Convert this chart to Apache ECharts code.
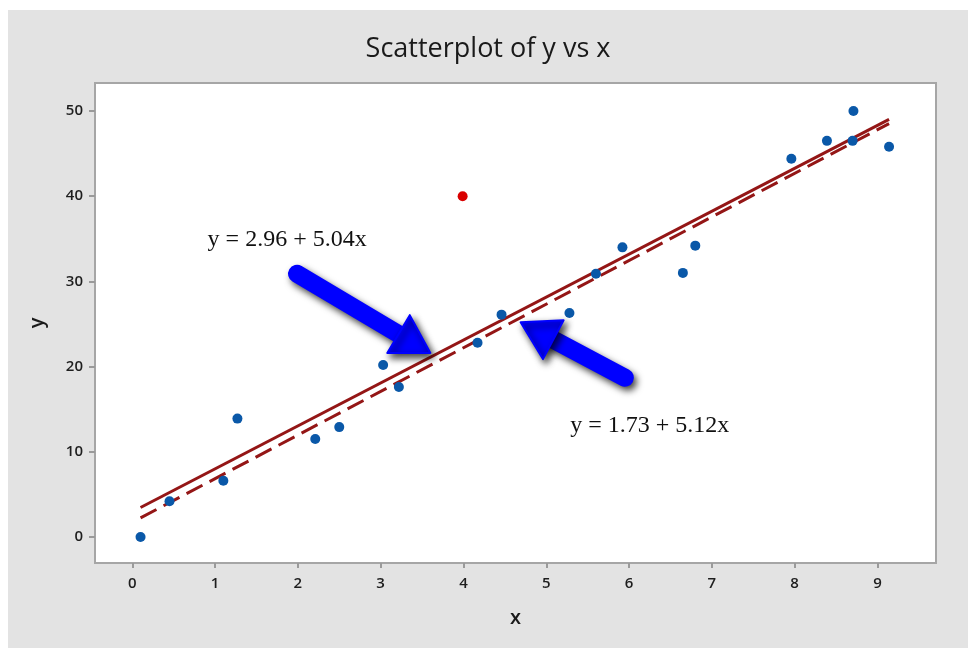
<!DOCTYPE html>
<html>
<head>
<meta charset="utf-8">
<script src="https://cdn.jsdelivr.net/npm/echarts@6/dist/echarts.min.js"></script>
<style>
  html, body { margin: 0; padding: 0; background: #ffffff; }
  #chart { position: absolute; left: 8px; top: 10px; width: 960px; height: 638px; }
</style>
</head>
<body>
<div id="chart"></div>
<script>
// ---- data ----
const xValues = [0.10, 0.45, 1.10, 1.27, 2.21, 2.50, 3.03, 3.22, 4.17, 4.46, 5.28, 5.60, 5.92, 6.65, 6.80, 7.96, 8.39, 8.70, 8.71, 9.14];
const yValues = [0.0, 4.2, 6.6, 13.9, 11.5, 12.9, 20.2, 17.6, 22.8, 26.1, 26.3, 30.9, 34.0, 31.0, 34.2, 44.4, 46.5, 46.5, 50.0, 45.8];
const outlierX = [3.99];
const outlierY = [40.0];
const fitWithOutlier = [2.96, 5.04];   // intercept, slope (solid)
const fitWithoutOutlier = [1.73, 5.12]; // intercept, slope (dashed)
const fitXRange = [0.10, 9.14];
const xTicks = [0, 1, 2, 3, 4, 5, 6, 7, 8, 9];
const yTicks = [0, 10, 20, 30, 40, 50];
const labelWith = 'y = 2.96 + 5.04x';
const labelWithout = 'y = 1.73 + 5.12x';
// annotation anchors in data coordinates
const labelWithPos = [0.91, 34.9];
const labelWithoutPos = [5.29, 13.1];
const arrow1 = [[1.99, 30.9], [3.60, 21.6]]; // tail, tip
const arrow2 = [[5.95, 18.7], [4.69, 25.2]];

const pts = xValues.map((x, i) => [x, yValues[i]]);
const outPts = outlierX.map((x, i) => [x, outlierY[i]]);
const fitLine = (f) => fitXRange.map(x => [x, +(f[0] + f[1] * x).toFixed(3)]);

const chart = echarts.init(document.getElementById('chart'));
const tickFont = { fontFamily: 'Open Sans', fontSize: 15, fontWeight: 600, color: '#1e1e1e' };

chart.setOption({
  backgroundColor: '#e3e3e3',
  animation: false,
  title: {
    text: 'Scatterplot of y vs x',
    left: 'center',
    top: 21,
    textStyle: { fontFamily: 'Open Sans', fontSize: 27, fontWeight: 'normal', color: '#1a1a1a' }
  },
  grid: {
    left: 87, right: 32, top: 73, bottom: 85,
    show: true, backgroundColor: '#ffffff', borderColor: '#a6a6a6', borderWidth: 2
  },
  xAxis: {
    type: 'value', min: -0.45, max: 9.707,
    name: 'x', nameLocation: 'middle', nameGap: 45,
    nameTextStyle: { fontFamily: 'Open Sans', fontSize: 20, fontWeight: 600, color: '#1a1a1a' },
    axisLine: { show: false, onZero: false },
    axisTick: { show: true, length: 5, customValues: xTicks, lineStyle: { color: '#9a9a9a', width: 2 } },
    axisLabel: Object.assign({ customValues: xTicks, margin: 13 }, tickFont),
    splitLine: { show: false }
  },
  yAxis: {
    type: 'value', min: -3.05, max: 53.29,
    name: 'y', nameLocation: 'middle', nameGap: 48,
    nameTextStyle: { fontFamily: 'Open Sans', fontSize: 20, fontWeight: 600, color: '#1a1a1a' },
    axisLine: { show: false, onZero: false },
    axisTick: { show: true, length: 6, customValues: yTicks, lineStyle: { color: '#9a9a9a', width: 2 } },
    axisLabel: Object.assign({ customValues: yTicks, margin: 12 }, tickFont),
    splitLine: { show: false }
  },
  series: [
    {
      type: 'line', data: fitLine(fitWithOutlier), symbol: 'none', z: 2,
      lineStyle: { color: '#941616', width: 3, type: 'solid' }
    },
    {
      type: 'line', data: fitLine(fitWithoutOutlier), symbol: 'none', z: 2,
      lineStyle: { color: '#941616', width: 3, type: [18, 8] }
    },
    {
      type: 'scatter', data: pts, symbolSize: 10, z: 3,
      itemStyle: { color: '#0a58a8', opacity: 1 }
    },
    {
      type: 'scatter', data: outPts, symbolSize: 10, z: 3,
      itemStyle: { color: '#d90000', opacity: 1 }
    }
  ]
});

function arrowGraphics(a) {
  const t = chart.convertToPixel({ gridIndex: 0 }, a[0]);
  const p = chart.convertToPixel({ gridIndex: 0 }, a[1]);
  const dx = p[0] - t[0], dy = p[1] - t[1];
  const len = Math.sqrt(dx * dx + dy * dy);
  const ux = dx / len, uy = dy / len;
  const nx = -uy, ny = ux;
  const headLen = 37, headHalf = 22, shaft = 18;
  const bx = p[0] - ux * headLen, by = p[1] - uy * headLen;
  const shadow = { shadowBlur: 7, shadowColor: 'rgba(0,0,0,0.75)', shadowOffsetX: 3, shadowOffsetY: 4 };
  return [
    {
      type: 'line', z: 50,
      shape: { x1: t[0], y1: t[1], x2: bx + ux * 4, y2: by + uy * 4 },
      style: Object.assign({ stroke: '#0000ff', lineWidth: shaft, lineCap: 'round' }, shadow)
    },
    {
      type: 'polygon', z: 51,
      shape: { points: [[p[0], p[1]], [bx + nx * headHalf, by + ny * headHalf], [bx - nx * headHalf, by - ny * headHalf]] },
      style: Object.assign({ fill: '#0000ff', lineJoin: 'round', stroke: '#0000ff', lineWidth: 2 }, shadow)
    }
  ];
}

function textGraphic(txt, pos) {
  const p = chart.convertToPixel({ gridIndex: 0 }, pos);
  return {
    type: 'text', z: 60, x: p[0], y: p[1],
    style: { text: txt, fill: '#111111', font: '24px "Liberation Serif"', textAlign: 'left', textVerticalAlign: 'middle' }
  };
}

chart.setOption({
  graphic: [].concat(
    arrowGraphics(arrow1),
    arrowGraphics(arrow2),
    [textGraphic(labelWith, labelWithPos), textGraphic(labelWithout, labelWithoutPos)]
  )
});
</script>
</body>
</html>
